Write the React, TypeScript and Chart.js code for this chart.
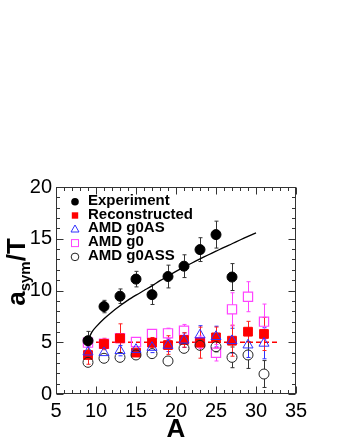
import React, { useEffect, useRef } from "react";
import { Chart, registerables } from "chart.js";

Chart.register(...registerables);

// ---------- data ----------
const massA = [9, 11, 13, 15, 17, 19, 21, 23, 25, 27, 29, 31];

const expA = [9, 11, 13, 15, 17, 19, 21, 23, 25, 27];
const expVal = [5.15, 8.45, 9.45, 11.1, 9.6, 11.35, 12.35, 13.95, 15.4, 11.3];
const expErr = [0.9, 0.6, 0.7, 0.75, 0.95, 1.1, 1.1, 1.15, 1.3, 1.3];

const recVal = [3.77, 4.83, 5.38, 4.0, 4.96, 4.73, 5.22, 4.96, 5.47, 5.15, 6.02, 5.8];
const recErr = [0.9, 0.55, 1.4, 0.3, 0.5, 0.9, 0.7, 1.5, 1.0, 1.5, 1.0, 1.6];

const g0asVal = [4.05, 3.99, 4.19, 4.3, 4.5, 4.7, 5.2, 5.7, 5.55, 5.15, 4.73, 4.9];
const g0asErr = [0.5, 0.4, 0.5, 0.4, 0.5, 0.6, 0.7, 0.9, 1.0, 1.2, 1.2, 1.5];

const g0Val = [4.96, 4.85, 5.4, 5.02, 5.8, 5.86, 6.12, 5.0, 3.99, 8.18, 9.4, 6.99];
const g0Err = [0.3, 0.3, 0.3, 0.2, 0.4, 0.5, 0.6, 0.6, 0.8, 1.6, 1.45, 1.7];

const g0assVal = [3.06, 3.45, 3.54, 3.77, 3.9, 3.19, 4.41, 4.7, 4.57, 3.54, 3.77, 1.93];
const g0assErr = [0.3, 0.2, 0.25, 0.2, 0.3, 0.3, 0.3, 0.4, 0.5, 1.0, 1.3, 1.3];

const fitA = [9, 9.5, 10, 11, 12, 13, 14, 15, 16, 17, 18, 19, 20, 21, 22, 23, 24, 25, 26, 27, 28, 29, 30];
const fitVal = [5.2, 6.0, 6.48, 7.27, 7.93, 8.52, 9.07, 9.55, 10.0, 10.45, 10.95, 11.4, 11.85, 12.26, 12.66, 13.05, 13.43, 13.8, 14.17, 14.52, 14.88, 15.23, 15.57];

const refLineA = [9, 33];
const refLineVal = [5, 5];

const legendLabels = ["Experiment", "Reconstructed", "AMD g0AS", "AMD g0", "AMD g0ASS"];
const xTickStep = 5;
const yTickStep = 5;

const FONT = "'Liberation Sans', Arial, Helvetica, sans-serif";

const pts = (xs: number[], ys: number[]) => xs.map((x, i) => ({ x, y: ys[i] }));

const errorBarPlugin = {
  id: "errorBars",
  beforeDatasetsDraw(chart: any) {
    const { ctx, chartArea: a } = chart;
    const xs = chart.scales.x;
    const ys = chart.scales.y;
    ctx.save();
    ctx.beginPath();
    ctx.rect(a.left, a.top, a.right - a.left, a.bottom - a.top);
    ctx.clip();
    chart.data.datasets.forEach((ds: any) => {
      if (!ds.errors) return;
      ctx.strokeStyle = ds.errColor;
      ctx.lineWidth = 1;
      ds.data.forEach((p: any, i: number) => {
        const e = ds.errors[i];
        const px = Math.round(xs.getPixelForValue(p.x)) + 0.5;
        const py = ys.getPixelForValue(p.y);
        const top = ys.getPixelForValue(p.y + e);
        const bot = ys.getPixelForValue(p.y - e);
        const g = ds.errGap;
        ctx.beginPath();
        if (py - g > top) {
          ctx.moveTo(px, py - g);
          ctx.lineTo(px, top);
          ctx.moveTo(px - 2, top);
          ctx.lineTo(px + 2, top);
        }
        if (py + g < bot) {
          ctx.moveTo(px, py + g);
          ctx.lineTo(px, bot);
          ctx.moveTo(px - 2, bot);
          ctx.lineTo(px + 2, bot);
        }
        ctx.stroke();
      });
    });
    ctx.restore();
  },
};

const framePlugin = {
  id: "frameDecor",
  afterDraw(chart: any) {
    const { ctx, chartArea: a } = chart;
    const xs = chart.scales.x;
    const ys = chart.scales.y;
    ctx.save();
    ctx.strokeStyle = "#333";
    ctx.lineWidth = 1;
    const L = Math.round(a.left) + 0.5;
    const R = Math.round(a.right) - 0.5;
    const T = Math.round(a.top) + 0.5;
    const B = Math.round(a.bottom) - 0.5;
    ctx.strokeRect(L, T, R - L, B - T);
    ctx.beginPath();
    for (let v = 5; v <= 35; v += 1) {
      const px = Math.round(xs.getPixelForValue(v)) + 0.5;
      const len = v % xTickStep === 0 ? 7 : 3.5;
      ctx.moveTo(px, B);
      ctx.lineTo(px, B - len);
      ctx.moveTo(px, T);
      ctx.lineTo(px, T + len);
    }
    for (let v = 0; v <= 20; v += 1) {
      const py = Math.round(ys.getPixelForValue(v)) + 0.5;
      const len = v % yTickStep === 0 ? 7 : 3.5;
      ctx.moveTo(L, py);
      ctx.lineTo(L + len, py);
      ctx.moveTo(R, py);
      ctx.lineTo(R - len, py);
    }
    ctx.stroke();

    // x title
    ctx.fillStyle = "#000";
    ctx.font = `bold 26px ${FONT}`;
    ctx.textAlign = "center";
    ctx.textBaseline = "alphabetic";
    ctx.fillText("A", (a.left + a.right) / 2, 437);

    // y title a_sym/T
    ctx.save();
    ctx.translate(15, 272);
    ctx.rotate(-Math.PI / 2);
    const big = `bold 26px ${FONT}`;
    const small = `bold 15px ${FONT}`;
    ctx.font = big;
    const wa = ctx.measureText("a").width;
    const wt = ctx.measureText("/T").width;
    ctx.font = small;
    const ws = ctx.measureText("sym").width;
    const x0 = -(wa + ws + wt) / 2;
    ctx.textAlign = "left";
    ctx.font = big;
    ctx.fillText("a", x0, 10);
    ctx.font = small;
    ctx.fillText("sym", x0 + wa, 15);
    ctx.font = big;
    ctx.fillText("/T", x0 + wa + ws, 10);
    ctx.restore();

    // legend
    const rowY = [200.7, 214.5, 228.3, 242.1, 255.9];
    const mx = 75;
    ctx.font = `bold 15px ${FONT}`;
    ctx.textAlign = "left";
    ctx.textBaseline = "middle";
    legendLabels.forEach((lab, i) => {
      const y = rowY[i] + 1;
      ctx.lineWidth = 1;
      ctx.beginPath();
      if (i === 0) {
        ctx.fillStyle = "#000";
        ctx.arc(mx, y, 3.8, 0, Math.PI * 2);
        ctx.fill();
      } else if (i === 1) {
        ctx.fillStyle = "#ff0000";
        ctx.fillRect(mx - 3.2, y - 3.2, 6.4, 6.4);
      } else if (i === 2) {
        ctx.strokeStyle = "#3030ff";
        ctx.moveTo(mx, y - 4.3);
        ctx.lineTo(mx + 4, y + 2.7);
        ctx.lineTo(mx - 4, y + 2.7);
        ctx.closePath();
        ctx.stroke();
      } else if (i === 3) {
        ctx.strokeStyle = "#ff44ff";
        ctx.strokeRect(mx - 3.5, y - 3.5, 7, 7);
      } else {
        ctx.strokeStyle = "#222";
        ctx.arc(mx, y, 3.8, 0, Math.PI * 2);
        ctx.stroke();
      }
      ctx.fillStyle = "#000";
      ctx.fillText(lab, 88, rowY[i]);
    });
    ctx.restore();
  },
};

export default function App() {
  const ref = useRef<HTMLCanvasElement | null>(null);

  useEffect(() => {
    if (!ref.current) return;
    const tickFont = { family: FONT, size: 20 };
    const chart = new Chart(ref.current, {
      type: "scatter",
      data: {
        datasets: [
          {
            label: "fit",
            data: pts(fitA, fitVal),
            showLine: true,
            pointRadius: 0,
            borderColor: "#000",
            borderWidth: 1.3,
            tension: 0.3,
            order: 0,
          },
          {
            label: "Experiment",
            data: pts(expA, expVal),
            pointStyle: "circle",
            pointRadius: 5,
            backgroundColor: "#000",
            borderColor: "#000",
            borderWidth: 1,
            errors: expErr,
            errColor: "#333",
            errGap: 5,
            order: 1,
          },
          {
            label: "AMD g0AS",
            data: pts(massA, g0asVal),
            pointStyle: "triangle",
            pointRadius: 5.8,
            backgroundColor: "rgba(0,0,0,0)",
            borderColor: "#3030ff",
            borderWidth: 1,
            errors: g0asErr,
            errColor: "#3030ff",
            errGap: 5,
            order: 2,
          },
          {
            label: "AMD g0ASS",
            data: pts(massA, g0assVal),
            pointStyle: "circle",
            pointRadius: 5,
            backgroundColor: "rgba(0,0,0,0)",
            borderColor: "#222",
            borderWidth: 1,
            errors: g0assErr,
            errColor: "#333",
            errGap: 5,
            order: 3,
          },
          {
            label: "Reconstructed",
            data: pts(massA, recVal),
            pointStyle: "rect",
            pointRadius: 6.2,
            backgroundColor: "#ff0000",
            borderColor: "#ff0000",
            borderWidth: 1,
            errors: recErr,
            errColor: "#ff2020",
            errGap: 4.4,
            order: 4,
          },
          {
            label: "AMD g0",
            data: pts(massA, g0Val),
            pointStyle: "rect",
            pointRadius: 6.5,
            backgroundColor: "rgba(0,0,0,0)",
            borderColor: "#ff44ff",
            borderWidth: 1.2,
            errors: g0Err,
            errColor: "#ff44ff",
            errGap: 4.6,
            order: 5,
          },
          {
            label: "ref",
            data: pts(refLineA, refLineVal),
            showLine: true,
            pointRadius: 0,
            borderColor: "#ff0000",
            borderWidth: 1.5,
            borderDash: [5, 3],
            order: 6,
          },
        ] as any,
      },
      options: {
        animation: false,
        responsive: false,
        devicePixelRatio: 1,
        layout: { padding: { top: 187, right: 44, left: 0, bottom: 0 } },
        plugins: { legend: { display: false }, tooltip: { enabled: false } },
        scales: {
          x: {
            type: "linear",
            min: 5,
            max: 35,
            afterFit: (s: any) => {
              s.height = 46;
            },
            grid: { display: false, drawTicks: false },
            border: { display: false },
            ticks: {
              stepSize: xTickStep,
              autoSkip: false,
              maxRotation: 0,
              padding: 5,
              font: tickFont,
              color: "#000",
            },
          },
          y: {
            type: "linear",
            min: 0,
            max: 20,
            afterFit: (s: any) => {
              s.width = 56;
            },
            grid: { display: false, drawTicks: false },
            border: { display: false },
            ticks: {
              stepSize: yTickStep,
              autoSkip: false,
              padding: 4,
              font: tickFont,
              color: "#000",
            },
          },
        },
      } as any,
      plugins: [errorBarPlugin, framePlugin],
    });
    return () => chart.destroy();
  }, []);

  return (
    <div style={{ position: "fixed", left: 0, top: 0, width: 340, height: 440, background: "#fff" }}>
      <canvas ref={ref} width={340} height={440} style={{ display: "block" }} />
    </div>
  );
}
